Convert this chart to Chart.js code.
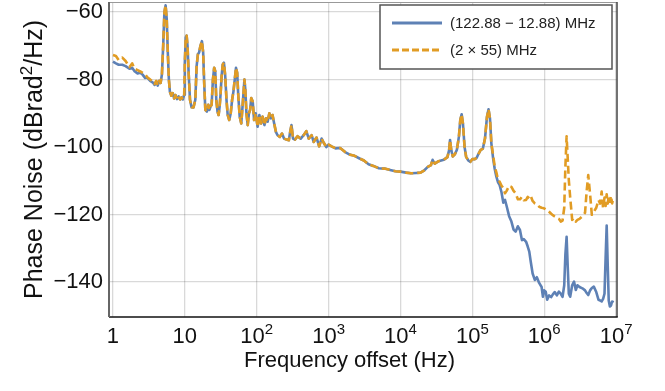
<!DOCTYPE html>
<html>
<head>
<meta charset="utf-8">
<title>Phase noise</title>
<script src="https://cdn.jsdelivr.net/npm/chart.js@4/dist/chart.umd.min.js"></script>
<style>
  html, body { margin: 0; padding: 0; background: #fff; }
  #wrap { width: 665px; height: 391px; }
</style>
</head>
<body>
<div id="wrap"><canvas id="pn" width="665" height="391"></canvas></div>
<script>
'use strict';

// ─── Data ───
const seriesLabels = ['(122.88 \u2212 12.88) MHz', '(2 \u00d7 55) MHz'];

// 1 Hz .. 4.4 Hz, the two traces differ slightly here
const lowFreqs = [1.0, 1.1, 1.2, 1.35, 1.5, 1.7, 1.85, 2.0, 2.2, 2.4, 2.6, 2.8, 3.0, 3.3, 3.6, 3.8, 4.0, 4.2, 4.4];
const blueLow = [-74.7, -75.2, -75.6, -75.6, -76.0, -76.8, -76.5, -77.5, -78.2, -78.0, -78.6, -79.5, -79.4, -80.4, -80.9, -81.6, -80.5, -81.8, -80.4];
const orangeLow = [-72.7, -73.0, -74.2, -73.5, -74.5, -76.3, -75.2, -76.8, -77.2, -77.6, -78.0, -78.4, -79.3, -80.0, -80.6, -81.3, -80.4, -81.7, -80.4];

// 4.6 Hz .. 184 kHz, both traces overlap
const midFreqs = [4.6, 4.8, 5.0, 5.2, 5.4, 5.6, 5.8, 6.0, 6.2, 6.5,
  6.8, 7.1, 7.4, 7.8, 8.2, 8.6, 9.0, 9.4, 9.8, 10.0,
  10.3, 10.6, 10.9, 11.3, 11.8, 12.4, 13.2, 14.0, 14.6, 15.2,
  15.8, 16.5, 17.3, 18.0, 18.6, 19.3, 20.3, 21.2, 22.0, 22.8,
  23.6, 24.6, 25.6, 26.5, 27.4, 28.5, 29.5, 30.5, 31.5, 32.5,
  33.7, 35.0, 36.5, 38.0, 39.5, 41.5, 43.5, 45.5, 47.5, 49.5,
  51.5, 53.5, 55.5, 58, 61, 63.5, 65.5, 67.5, 69.5, 72,
  75, 78, 81, 84, 88, 92, 97, 103, 109, 115,
  121, 128, 135, 142, 150, 158, 166, 175, 185, 195,
  210, 225, 240, 260, 280, 295, 305, 320, 340, 370,
  410, 450, 490, 530, 580, 620, 680, 740, 800, 860,
  930, 1000, 1100, 1250, 1450, 1700, 2000, 2300, 2700, 3100,
  3600, 4200, 5000, 6000, 7200, 8500, 10000, 12000, 14000, 16500,
  19000, 21500, 24000, 26500, 28000, 30000, 34000, 40000, 45000, 47500,
  49000, 51000, 53500, 57000, 61000, 65000, 68000, 71000, 74000, 78000,
  82000, 88000, 94000, 100000, 108000, 115000, 122000, 130000, 140000, 150000,
  160000, 168000, 176000, 184000];
const midDb = [-81.0, -78.5, -70, -60, -58.0, -62, -72, -80, -83.6, -84.8,
  -84.0, -85.6, -84.6, -85.8, -85.0, -85.9, -85.3, -85.9, -84.5, -75,
  -67.5, -67.0, -70, -78, -86, -88.2, -88.3, -86, -76, -72.5,
  -72, -70, -68.6, -72, -81, -89, -89.5, -87.5, -89.0, -88,
  -87.5, -80, -76.5, -77.5, -86, -89.5, -90.5, -88, -84, -79,
  -75.5, -75.0, -79, -86, -90.5, -92, -90, -86, -83.5, -80,
  -76.5, -78, -85, -91, -93, -88, -84, -80, -83, -90,
  -93.5, -90, -89, -85.5, -86.5, -92, -90, -94, -90.5, -93,
  -91, -93.5, -91.5, -92.5, -90, -91.5, -90.5, -93, -95.5, -96.5,
  -97, -96, -97.5, -97.8, -98, -95, -93.5, -97.5, -97.8, -96.8,
  -97.5, -96.5, -95.3, -97.5, -96.5, -98.5, -97.2, -99.8, -97.5, -98.8,
  -100, -99.3, -99.8, -100.4, -100.3, -101.5, -102.3, -102.6, -103.4, -104.0,
  -105.1, -105.6, -106.3, -106.4, -106.8, -107.2, -107.3, -107.6, -107.8, -107.7,
  -107.6, -106.9, -105.9, -105.4, -103.8, -104.9, -104.2, -103.8, -103.0, -101,
  -97.9, -101, -102.8, -102.2, -100.8, -97, -92, -90.3, -93, -100,
  -102.9, -104, -104.4, -103.6, -103.6, -103.2, -102, -100.9, -100.5, -97.5,
  -91, -88.8, -91.5, -98.9];

// 195 kHz .. 9 MHz, the traces split
const highFreqs = [195000, 205000, 216000, 228000, 240000, 255000, 270000, 285000, 300000, 325000,
  350000, 375000, 400000, 430000, 460000, 490000, 520000, 560000, 590000, 620000,
  650000, 690000, 740000, 790000, 850000, 920000, 960000, 1.0e6, 1.05e6, 1.1e6,
  1.17e6, 1.25e6, 1.32e6, 1.4e6, 1.5e6, 1.6e6, 1.7e6, 1.8e6, 1.9e6, 1.97e6,
  2.05e6, 2.12e6, 2.2e6, 2.3e6, 2.45e6, 2.6e6, 2.75e6, 2.9e6, 3.1e6, 3.4e6,
  3.7e6, 3.9e6, 4.1e6, 4.35e6, 4.6e6, 4.9e6, 5.3e6, 5.7e6, 6.0e6, 6.3e6,
  6.6e6, 6.9e6, 7.15e6, 7.4e6, 7.65e6, 7.9e6, 8.2e6, 8.5e6, 8.8e6, 9.0e6];
const blueHigh = [-103.5, -106.5, -108.8, -110.5, -111.3, -113.5, -116.5, -115.7, -117.5, -120.5,
  -122.1, -124.5, -125.1, -123.5, -124.6, -127.6, -127.3, -128.1, -129.5, -131,
  -134, -137.5, -139.4, -138.6, -140.3, -141.5, -144.4, -142.5, -142.9, -145.3,
  -144, -144.5, -143.7, -143, -144, -142.9, -143.5, -144.4, -141, -132,
  -126.6, -135, -143.5, -144.4, -141, -139.9, -142.4, -141, -141.5, -141.9,
  -142.5, -143.3, -143.9, -142.5, -141.8, -141.4, -143, -145.3, -145.5, -145.8,
  -145, -143.5, -133, -123.3, -135, -145.5, -147.3, -147, -145.8, -145.6];
const orangeHigh = [-102.5, -105.8, -107.5, -109.8, -110.3, -111.5, -112.2, -113.7, -113.0, -111.5,
  -111.8, -113, -113.7, -115.5, -115.5, -114.8, -115.8, -115.7, -114.8, -115.2,
  -114.5, -116, -116.7, -117, -117.7, -118, -118.1, -118.2, -118.5, -118.7,
  -119.2, -119.8, -120.2, -120.6, -121, -121.3, -122.1, -121.8, -118, -106,
  -96.8, -103, -109.8, -115, -121.6, -121.1, -122.1, -121.6, -121.3, -120.5,
  -119.5, -113, -108.3, -114, -120.1, -119.2, -118, -115.7, -116.8, -113.2,
  -118.2, -115, -117.5, -114, -116.8, -114.5, -116.2, -114.5, -116.7, -116];

const xTickValues = [1, 10, 100, 1000, 10000, 100000, 1000000, 10000000];
const yTickValues = [-140, -120, -100, -80, -60];

const BLUE = '#5E81B5';
const ORANGE = '#E19C24';
const FONT = "'Liberation Sans', Arial, sans-serif";

const toPoints = (fs, vs) => fs.map((f, i) => ({ x: f, y: vs[i] }));
const bluePts = [...toPoints(lowFreqs, blueLow), ...toPoints(midFreqs, midDb), ...toPoints(highFreqs, blueHigh)];
const orangePts = [...toPoints(lowFreqs, orangeLow), ...toPoints(midFreqs, midDb), ...toPoints(highFreqs, orangeHigh)];

/* ─── Plugins: frame, axis labels with superscripts, inset legend ─── */
const framePlugin = {
  id: 'frame',
  afterDatasetsDraw(chart) {
    const { ctx, chartArea: a } = chart;
    ctx.save();
    ctx.lineCap = 'butt';
    ctx.strokeStyle = '#999'; ctx.lineWidth = 1;
    ctx.beginPath(); ctx.moveTo(a.left, a.top + 0.5); ctx.lineTo(a.right, a.top + 0.5); ctx.stroke();
    ctx.strokeStyle = '#444'; ctx.lineWidth = 1.5;
    ctx.beginPath(); ctx.moveTo(a.right, a.top); ctx.lineTo(a.right, a.bottom); ctx.stroke();
    ctx.strokeStyle = '#111'; ctx.lineWidth = 1.5;
    ctx.beginPath(); ctx.moveTo(a.left - 1, a.bottom); ctx.lineTo(a.right + 0.75, a.bottom); ctx.stroke();
    ctx.strokeStyle = '#666'; ctx.lineWidth = 2;
    ctx.beginPath(); ctx.moveTo(a.left - 1, a.top); ctx.lineTo(a.left - 1, a.bottom); ctx.stroke();
    ctx.restore();
  }
};

function drawSup(ctx, x, y, base, sup, size, align) {
  ctx.font = `${size}px ${FONT}`;
  const wb = ctx.measureText(base).width;
  ctx.font = `${Math.round(size * 0.68)}px ${FONT}`;
  const ws = sup ? ctx.measureText(sup).width : 0;
  let x0 = x;
  if (align === 'center') x0 = x - (wb + ws) / 2;
  ctx.font = `${size}px ${FONT}`;
  ctx.fillText(base, x0, y);
  if (sup) {
    ctx.font = `${Math.round(size * 0.68)}px ${FONT}`;
    ctx.fillText(sup, x0 + wb, y - size * 0.42);
  }
}

const labelsPlugin = {
  id: 'axisLabels',
  afterDraw(chart) {
    const { ctx, chartArea: a } = chart;
    const xs = chart.scales.x;
    ctx.save();
    ctx.fillStyle = '#111';
    ctx.textBaseline = 'alphabetic';
    ctx.textAlign = 'left';
    // x tick labels
    xTickValues.forEach(v => {
      const px = xs.getPixelForValue(v);
      const e = Math.round(Math.log10(v));
      if (e === 0) drawSup(ctx, px, a.bottom + 26, '1', '', 22, 'center');
      else if (e === 1) drawSup(ctx, px, a.bottom + 26, '10', '', 22, 'center');
      else drawSup(ctx, px, a.bottom + 26, '10', String(e), 22, 'center');
    });
    // x title
    ctx.font = `22px ${FONT}`;
    ctx.textAlign = 'center';
    ctx.fillText('Frequency offset (Hz)', (a.left + a.right) / 2 - 14, a.bottom + 50);
    // y title, rotated
    ctx.translate(42, (a.top + a.bottom) / 2);
    ctx.rotate(-Math.PI / 2);
    ctx.textAlign = 'left';
    const p1 = 'Phase Noise (dBrad', p2 = '/Hz)';
    ctx.font = `25px ${FONT}`;
    const w1 = ctx.measureText(p1).width, w3 = ctx.measureText(p2).width;
    ctx.font = `17px ${FONT}`;
    const w2 = ctx.measureText('2').width;
    const x0 = -(w1 + w2 + w3) / 2;
    ctx.font = `25px ${FONT}`;
    ctx.fillText(p1, x0, 0);
    ctx.font = `17px ${FONT}`;
    ctx.fillText('2', x0 + w1, -10);
    ctx.font = `25px ${FONT}`;
    ctx.fillText(p2, x0 + w1 + w2, 0);
    ctx.restore();
  }
};

const legendPlugin = {
  id: 'insetLegend',
  afterDraw(chart) {
    const { ctx } = chart;
    const bx = 380, by = 5, bw = 232, bh = 64;
    ctx.save();
    ctx.fillStyle = '#fff';
    ctx.fillRect(bx, by, bw, bh);
    ctx.strokeStyle = '#555'; ctx.lineWidth = 1.5;
    ctx.strokeRect(bx, by, bw, bh);
    chart.data.datasets.forEach((ds, i) => {
      const y = by + 18 + i * 27;
      ctx.strokeStyle = ds.borderColor;
      ctx.lineWidth = 3;
      ctx.setLineDash(ds.borderDash && ds.borderDash.length ? [7, 3] : []);
      ctx.beginPath(); ctx.moveTo(bx + 12, y); ctx.lineTo(bx + 62, y); ctx.stroke();
      ctx.setLineDash([]);
      ctx.fillStyle = '#222';
      ctx.font = `15px ${FONT}`;
      ctx.textBaseline = 'middle';
      ctx.textAlign = 'left';
      ctx.fillText(ds.label, bx + 70, y + 1);
    });
    ctx.restore();
  }
};

new Chart(document.getElementById('pn').getContext('2d'), {
  type: 'line',
  data: {
    datasets: [
      { label: seriesLabels[0], data: bluePts, order: 2, borderColor: BLUE, borderWidth: 2.6, pointRadius: 0, tension: 0, borderJoinStyle: 'round' },
      { label: seriesLabels[1], data: orangePts, order: 1, borderColor: ORANGE, borderWidth: 2.6, borderDash: [8, 4], pointRadius: 0, tension: 0, borderJoinStyle: 'round' }
    ]
  },
  options: {
    responsive: false,
    animation: false,
    devicePixelRatio: 1,
    layout: { padding: { left: 0, right: 48, top: 2, bottom: 0 } },
    plugins: { legend: { display: false }, tooltip: { enabled: false } },
    scales: {
      x: {
        type: 'logarithmic',
        min: 0.91,
        max: 1.03e7,
        afterBuildTicks: s => { s.ticks = xTickValues.map(v => ({ value: v })); },
        afterFit: s => { s.height = 74; s.paddingLeft = 0; s.paddingRight = 0; },
        ticks: { display: false },
        grid: { color: 'rgba(0,0,0,0.15)', lineWidth: 1.3, drawTicks: false },
        border: { display: false }
      },
      y: {
        min: -150.4,
        max: -57,
        afterBuildTicks: s => { s.ticks = yTickValues.map(v => ({ value: v })); },
        afterFit: s => { s.width = 110; s.paddingTop = 0; s.paddingBottom = 0; },
        ticks: {
          color: '#111',
          padding: 7,
          font: { family: FONT, size: 22 },
          callback: v => String(v).replace('-', '\u2212')
        },
        grid: { color: 'rgba(0,0,0,0.15)', lineWidth: 1.3, drawTicks: false },
        border: { display: false }
      }
    }
  },
  plugins: [framePlugin, labelsPlugin, legendPlugin]
});
</script>
</body>
</html>
